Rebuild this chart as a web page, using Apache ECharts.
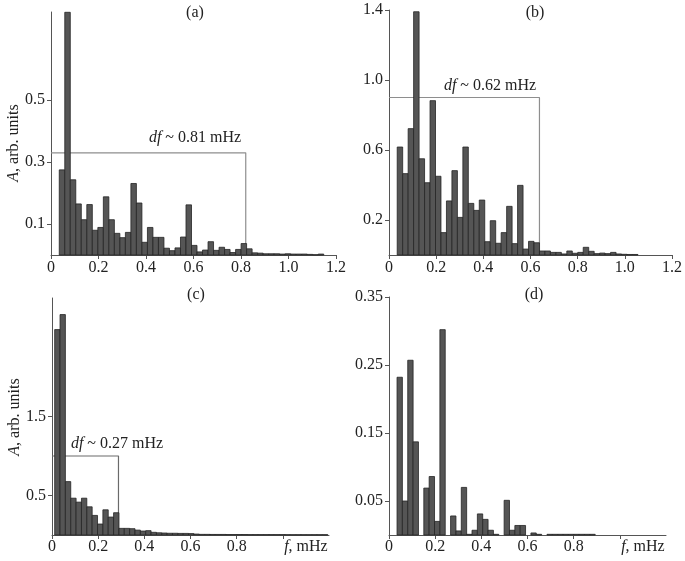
<!DOCTYPE html>
<html><head><meta charset="utf-8">
<script src="https://cdn.jsdelivr.net/npm/echarts@6/dist/echarts.min.js"></script>
<style>html,body{margin:0;padding:0;background:#fff}#c{width:685px;height:561px}</style>
</head><body><div id="c"></div>
<script>
// frequency resolution (mHz) of the spectra: bin k is centred at k * binWidth
const binWidth = 0.0232;

// panel (a)
const firstBinA = 2;
const ampA = [0.275,0.784,0.243,0.165,0.114,0.163,0.080,0.089,0.188,0.114,0.070,0.056,0.073,0.231,0.168,0.041,0.089,0.057,0.057,0.022,0.014,0.023,0.058,0.162,0.031,0.010,0.016,0.043,0.015,0.025,0.018,0.008,0.018,0.037,0.020,0.007,0.006,0.004,0.004,0.004,0.003,0.004,0.003,0.003,0.003,0.002,0.001,0.003];
const dfA = {freq:0.82, level:0.33, text:'0.81 mHz'};

// panel (b)
const firstBinB = 2;
const ampB = [0.617,0.465,0.722,1.39,0.550,0.413,0.882,0.450,0.128,0.309,0.482,0.215,0.617,0.295,0.255,0.314,0.076,0.196,0.067,0.128,0.278,0.065,0.398,0.034,0.078,0.070,0.023,0.023,0.015,0.015,0.006,0.023,0.010,0.015,0.044,0.021,0.008,0.011,0.008,0.015,0.006,0.004,0.003,0.003];
const dfB = {freq:0.638, level:0.9, text:'0.62 mHz'};

// panel (c)
const firstBinC = 1;
const ampC = [2.60,2.79,0.676,0.466,0.416,0.466,0.357,0.248,0.139,0.319,0.227,0.282,0.084,0.084,0.080,0.062,0.050,0.055,0.034,0.028,0.025,0.022,0.022,0.020,0.020,0.018,0.012,0.008,0.008,0.007,0.007,0.007,0.006,0.006,0.006,0.006,0.005,0.005,0.005,0.005,0.005,0.005,0.005,0.004,0.004,0.004,0.004,0.004,0.004,0.004,0.004];
const dfC = {freq:0.288, level:1.0, text:'0.27 mHz'};

// panel (d)
const firstBinD = 2;
const ampD = [0.232,0.05,0.257,0.137,0,0.069,0.086,0.02,0.302,0,0.028,0.006,0.070,0.001,0.007,0.031,0.023,0.007,0.001,0,0.051,0.007,0.014,0.014,0,0.003,0.001,0,0.001,0.001,0.001,0.001,0.001,0.001,0.001,0.001,0.001];

// axes
const xTicksTop = [0,0.2,0.4,0.6,0.8,1.0,1.2];
const xLabelsBottom = [0,0.2,0.4,0.6,0.8,1.1];
const xTicksBottom = [0,0.2,0.4,0.6,0.8,1.0];
const yTicksA = [0.1,0.3,0.5];
const yTicksB = [0.2,0.6,1.0,1.4];
const yTicksC = [0.5,1.5];
const yTicksD = [0.05,0.15,0.25,0.35];
const yMax = [0.785, 1.4, 3.0, 0.35];

const FONT = '"Liberation Serif", "Times New Roman", serif';
const FS = 16;
const TXT = '#222';
const AX = '#555';

function toData(first, amps){ return amps.map((v,i)=>[first+i, v]); }
function renderBar(params, api){
  const k = api.value(0), v = api.value(1);
  if (!(v > 0)) return null;
  const p0 = api.coord([(k-0.5)*binWidth, v]);
  const p1 = api.coord([(k+0.5)*binWidth, 0]);
  return {type:'rect', shape:{x:p0[0], y:p0[1], width:p1[0]-p0[0], height:p1[1]-p0[1]},
    style:{fill:'#555555', stroke:'#242424', lineWidth:0.8}};
}

function xAxis(idx, bottom){
  return {
    type:'value', gridIndex:idx, min:0, max:1.2,
    axisLine:{lineStyle:{color:AX, width:1}},
    axisTick:{show:true, length:4, lineStyle:{color:AX}, customValues: bottom ? xTicksBottom : xTicksTop},
    splitLine:{show:false},
    axisLabel:{
      customValues: bottom ? xLabelsBottom : xTicksTop,
      fontFamily:FONT, fontSize:FS, color:TXT, margin: bottom ? 4 : 5,
      formatter: v => (bottom && v > 1) ? '{i|f}, mHz' : (v === 0 ? '0' : v.toFixed(1)),
      rich:{i:{fontStyle:'italic', fontFamily:FONT, fontSize:FS, color:TXT}}
    }
  };
}
function yAxis(idx, ticks, max, dec){
  return {
    type:'value', gridIndex:idx, min:0, max:max,
    axisLine:{show:true, lineStyle:{color:AX, width:1}},
    axisTick:{show:true, length:4, lineStyle:{color:AX}, customValues:ticks},
    splitLine:{show:false},
    axisLabel:{customValues:ticks, fontFamily:FONT, fontSize:FS, color:TXT, margin:6,
      formatter: v => v.toFixed(dec)}
  };
}
function dfLine(idx, df){
  return {type:'line', xAxisIndex:idx, yAxisIndex:idx, symbol:'none', z:1, silent:true,
    data:[[0, df.level],[df.freq, df.level],[df.freq, 0]],
    lineStyle:{color: idx===2 ? '#6a6a6a' : '#8e8e8e', width:1.2}};
}
function txt(x, y, text, rot){
  return {type:'text', x:x, y:y, z:10, rotation: rot || 0, style:{text:text, fill:TXT,
    font:FS + 'px ' + FONT, align:'center', verticalAlign:'middle',
    rich:{i:{fontStyle:'italic', fontFamily:FONT, fontSize:FS, fill:TXT}}}};
}

const chart = echarts.init(document.getElementById('c'), null, {renderer:'canvas'});
chart.setOption({
  animation:false,
  backgroundColor:'#fff',
  grid:[
    {left:51, top:12, width:285, height:243},
    {left:389, top:10, width:285, height:245},
    {left:52, top:298, width:277, height:237},
    {left:389, top:297, width:277, height:238}
  ],
  xAxis:[xAxis(0,false), xAxis(1,false), xAxis(2,true), xAxis(3,true)],
  yAxis:[yAxis(0,yTicksA,yMax[0],1), yAxis(1,yTicksB,yMax[1],1), yAxis(2,yTicksC,yMax[2],1), yAxis(3,yTicksD,yMax[3],2)],
  series:[
    dfLine(0, dfA), dfLine(1, dfB), dfLine(2, dfC),
    {type:'custom', xAxisIndex:0, yAxisIndex:0, z:2, renderItem:renderBar, data:toData(firstBinA, ampA)},
    {type:'custom', xAxisIndex:1, yAxisIndex:1, z:2, renderItem:renderBar, data:toData(firstBinB, ampB)},
    {type:'custom', xAxisIndex:2, yAxisIndex:2, z:2, renderItem:renderBar, data:toData(firstBinC, ampC)},
    {type:'custom', xAxisIndex:3, yAxisIndex:3, z:2, renderItem:renderBar, data:toData(firstBinD, ampD)}
  ],
  graphic:[
    txt(195, 13, '(a)'), txt(535, 13, '(b)'), txt(196, 295, '(c)'), txt(534, 295, '(d)'),
    txt(195, 138, '{i|df} ~ ' + dfA.text),
    txt(490, 86, '{i|df} ~ ' + dfB.text),
    txt(117, 444, '{i|df} ~ ' + dfC.text),
    txt(14, 143, '{i|A}, arb. units', Math.PI/2),
    txt(15, 417, '{i|A}, arb. units', Math.PI/2)
  ]
});
</script>
</body></html>
